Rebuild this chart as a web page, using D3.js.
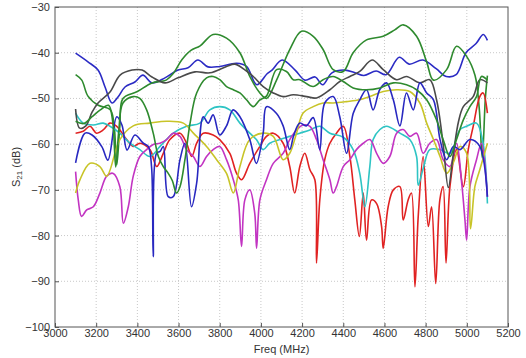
<!DOCTYPE html>
<html>
<head>
<meta charset="utf-8">
<script src="https://cdn.jsdelivr.net/npm/d3@7"></script>
<style>
  body { margin: 0; background: #fff; }
  text { font-family: "Liberation Sans", Arial, sans-serif; fill: #333; }
</style>
</head>
<body>
<svg id="chart" width="526" height="358"></svg>
<script>
// x ticks (MHz) and y ticks (dB)
const xTicks = [3000, 3200, 3400, 3600, 3800, 4000, 4200, 4400, 4600, 4800, 5000, 5200];
const yTicks = [-100, -90, -80, -70, -60, -50, -40, -30];

// traces, [freq MHz, S21 dB]
const blueUpper = [[3100,-40.1],[3160,-42],[3209,-43.8],[3243,-47.5],[3277,-51],[3306,-49.7],[3340,-47.5],[3388,-46.4],[3427,-44.9],[3471,-46.6],[3534,-45.5],[3597,-43.8],[3646,-43.3],[3694,-41.6],[3743,-43.1],[3800,-43],[3882,-42.3],[3930,-43],[3980,-47],[4030,-44.6],[4054,-43.8],[4103,-41.6],[4166,-43.8],[4214,-46],[4263,-45.3],[4300,-47],[4345,-44.4],[4408,-43.8],[4457,-44.4],[4500,-45],[4560,-44],[4608,-44.8],[4672,-41],[4720,-42.5],[4786,-41.6],[4851,-43.5],[4900,-45.2],[4948,-44.8],[4996,-40],[5045,-38],[5080,-36],[5100,-37.3]];

const greenHigh = [[3100,-44.8],[3130,-46],[3160,-49.5],[3210,-51.5],[3267,-52.4],[3285,-55],[3300,-64.5],[3315,-56],[3330,-50],[3400,-48.5],[3471,-46.6],[3540,-46],[3575,-44.5],[3617,-41.5],[3660,-39.5],[3705,-38.5],[3768,-36],[3833,-36.8],[3898,-40],[3946,-45.2],[3995,-48.8],[4027,-50],[4076,-46],[4140,-39.3],[4197,-35.3],[4254,-36.4],[4302,-39.3],[4351,-43.7],[4400,-44.1],[4448,-40],[4513,-37.2],[4594,-36.4],[4650,-35],[4691,-33.9],[4756,-36.4],[4805,-42],[4838,-46],[4902,-43.7],[4950,-38.6],[4999,-40.8],[5040,-45],[5060,-52],[5075,-63],[5090,-50],[5100,-45]];

const greenMid = [[3100,-55],[3140,-55.5],[3180,-54],[3220,-52.5],[3260,-51.5],[3280,-55],[3295,-65],[3310,-57],[3330,-51],[3380,-49.6],[3412,-50],[3445,-52.5],[3477,-57.6],[3502,-62.7],[3526,-64.9],[3550,-66.4],[3570,-68],[3590,-70.7],[3607,-69.3],[3631,-63.4],[3656,-55.4],[3688,-48.8],[3736,-45.5],[3768,-45.2],[3800,-45.9],[3833,-47.4],[3866,-48.1],[3898,-48.8],[3930,-50.3],[3963,-51.8],[3995,-50.3],[4027,-49.5],[4076,-43.7],[4124,-44.1],[4157,-45.9],[4189,-45.9],[4254,-47.4],[4302,-45.9],[4351,-45.2],[4400,-46.3],[4448,-47.7],[4513,-48.1],[4578,-47.7],[4643,-46.6],[4707,-47],[4756,-48.1],[4805,-50.3],[4853,-54.7],[4885,-59],[4918,-62.7],[4950,-59],[4983,-54.7],[5015,-51.8],[5047,-49.6],[5071,-45.2],[5100,-46]];

const black = [[3100,-52.3],[3120,-56.5],[3150,-56],[3180,-53],[3209,-51],[3267,-48.6],[3316,-44.9],[3374,-43.8],[3423,-43.8],[3471,-45.3],[3534,-46.6],[3597,-45.5],[3680,-44.2],[3753,-44.4],[3833,-43],[3874,-42.5],[3930,-44],[3963,-45.2],[4011,-47.4],[4060,-48.8],[4108,-49.6],[4157,-49.2],[4222,-49.6],[4270,-49.9],[4335,-48.1],[4383,-46.3],[4432,-45.2],[4480,-44.1],[4540,-41.6],[4594,-43.7],[4659,-45.9],[4707,-45.2],[4772,-46.6],[4820,-45.9],[4853,-50.3],[4885,-60],[4910,-69.5],[4935,-62],[4960,-55],[4983,-51.8],[5031,-49.6],[5063,-45.9],[5100,-46.6]];

const yellow = [[3100,-70.7],[3121,-67.8],[3170,-64.2],[3218,-64.9],[3251,-67],[3315,-59],[3380,-56],[3461,-55.4],[3542,-55],[3623,-55.4],[3672,-57.6],[3736,-60.5],[3785,-63.4],[3833,-66.4],[3866,-70.7],[3898,-64.9],[3946,-59],[4011,-57.6],[4060,-58.3],[4108,-63.4],[4140,-62],[4173,-57.6],[4205,-53.2],[4254,-51.8],[4302,-51],[4351,-51],[4416,-50.7],[4480,-50.3],[4529,-49.6],[4594,-48.5],[4659,-48.1],[4723,-48.5],[4772,-51],[4805,-55.4],[4838,-59],[4870,-62.7],[4902,-66.4],[4935,-64],[4967,-60.5],[4999,-62],[5018,-78.5],[5039,-69.3],[5063,-65.6],[5100,-59.8]];

const cyan = [[3100,-53.2],[3137,-55.4],[3186,-55.8],[3234,-55.4],[3267,-56.1],[3315,-57.6],[3364,-59.8],[3412,-61.2],[3461,-62.7],[3510,-60.5],[3574,-57.6],[3639,-56.1],[3704,-55.4],[3752,-52.5],[3800,-51.8],[3849,-52.5],[3898,-55.4],[3946,-57.6],[3978,-59],[4011,-61.2],[4043,-59.8],[4092,-59],[4140,-58.3],[4189,-57.6],[4238,-56.9],[4286,-56.1],[4335,-57.6],[4400,-58.5],[4448,-61.2],[4480,-66.4],[4505,-73.7],[4529,-64.9],[4545,-59],[4578,-56.8],[4610,-56.1],[4675,-57.6],[4723,-59],[4756,-62.7],[4764,-69],[4790,-65],[4820,-61.2],[4870,-61.2],[4918,-62],[4967,-56.8],[4999,-56.1],[5047,-55.4],[5079,-59.8],[5100,-73]];

const magenta = [[3100,-66],[3113,-72.2],[3129,-75.8],[3154,-74.4],[3186,-73.7],[3218,-70.7],[3251,-67],[3283,-66.4],[3315,-69.3],[3332,-77.3],[3356,-73.7],[3380,-67],[3412,-62.7],[3445,-61.2],[3477,-60.1],[3510,-59.8],[3542,-59],[3574,-57.6],[3607,-58.3],[3639,-61.2],[3672,-62.7],[3704,-64.9],[3736,-62.7],[3768,-61.2],[3800,-60.5],[3833,-63.4],[3866,-67.8],[3890,-72.2],[3906,-82.4],[3922,-72.2],[3946,-70],[3970,-75.1],[3979,-82.8],[3995,-72.2],[4027,-67.8],[4060,-64.2],[4108,-62],[4140,-59],[4173,-56.9],[4205,-55.8],[4238,-56.1],[4270,-59],[4302,-63.4],[4335,-67.8],[4351,-70.7],[4367,-69.3],[4400,-64.9],[4432,-63.4],[4464,-61.2],[4497,-59.8],[4529,-59],[4562,-62],[4594,-64.2],[4626,-62.7],[4659,-57.6],[4691,-56.8],[4723,-58.3],[4756,-57.6],[4788,-62],[4820,-59.8],[4853,-59],[4885,-63.4],[4918,-64.9],[4950,-59.8],[4975,-68.5],[4991,-76.6],[4999,-81],[5015,-69.3],[5047,-63.4],[5071,-59.8],[5100,-71.5]];

const red = [[3100,-57.6],[3137,-57.2],[3170,-56.1],[3202,-57.6],[3234,-56.9],[3267,-55.4],[3300,-56.1],[3348,-59],[3380,-60.5],[3412,-59.8],[3461,-61.2],[3494,-64.9],[3526,-62],[3558,-59],[3607,-57.6],[3639,-59.8],[3664,-62.7],[3688,-59.8],[3720,-57.6],[3768,-58],[3800,-59],[3849,-62],[3882,-66.4],[3906,-67.8],[3946,-64.2],[3995,-60.5],[4027,-58.3],[4060,-57.6],[4108,-59.8],[4140,-64.9],[4164,-70.7],[4189,-64.9],[4213,-62],[4238,-65.6],[4262,-67.8],[4270,-86],[4286,-72.2],[4310,-63.4],[4335,-59.8],[4367,-57.6],[4400,-56.1],[4432,-62.7],[4456,-72.2],[4478,-80.2],[4497,-70.7],[4513,-81],[4537,-72.2],[4562,-73],[4586,-78],[4594,-82.8],[4618,-73.7],[4643,-70],[4675,-69.3],[4691,-76.6],[4715,-72.2],[4731,-70.7],[4748,-91.2],[4764,-75.8],[4788,-62.7],[4813,-78],[4829,-73.7],[4849,-90.5],[4869,-72.2],[4885,-69.3],[4899,-86],[4918,-69.3],[4950,-61.2],[4983,-69.3],[5007,-61.2],[5031,-56.1],[5063,-49.6],[5079,-48.8],[5100,-53.2]];

const blueLow = [[3100,-64.1],[3146,-57.6],[3180,-58],[3228,-60.6],[3257,-63.5],[3300,-54],[3325,-55.8],[3350,-61.3],[3388,-58],[3429,-59.8],[3453,-60.5],[3469,-65],[3477,-84.6],[3493,-62],[3510,-61.6],[3526,-60.5],[3550,-71.5],[3574,-71.5],[3607,-63.4],[3631,-59.8],[3663,-73.7],[3688,-68.5],[3720,-54],[3744,-55.4],[3768,-53.6],[3800,-58],[3833,-56],[3865,-52.5],[3898,-54],[3946,-59],[3978,-64.2],[4011,-57.6],[4027,-51.8],[4076,-53.3],[4108,-56],[4140,-61.2],[4160,-58],[4189,-55.4],[4220,-56],[4254,-54.2],[4286,-61.2],[4310,-51],[4351,-49.6],[4383,-54],[4416,-62],[4448,-53.3],[4480,-50.3],[4513,-48.1],[4545,-52.5],[4578,-48],[4610,-46.6],[4643,-50.3],[4675,-56],[4707,-48.8],[4740,-52.5],[4772,-46.6],[4805,-48.8],[4838,-50.3],[4870,-59],[4902,-63.4],[4935,-60.5],[4967,-61.2],[5015,-59],[5063,-60.5],[5100,-71.5]];

const series = [
  { data: blueUpper, color: '#2b2bc4' },
  { data: greenHigh, color: '#2e8a2e' },
  { data: red, color: '#e02222' },
  { data: cyan, color: '#2ec4c4' },
  { data: magenta, color: '#c234c2' },
  { data: yellow, color: '#c8c428' },
  { data: black, color: '#4a4a4a' },
  { data: blueLow, color: '#2828c0' },
  { data: greenMid, color: '#2e8a2e' }
];

const margin = { top: 7, right: 18, bottom: 31, left: 55 };
const svg = d3.select('#chart');
const width = 526 - margin.left - margin.right;
const height = 358 - margin.top - margin.bottom;

const x = d3.scaleLinear().domain([3000, 5200]).range([0, width]);
const y = d3.scaleLinear().domain([-100, -30]).range([height, 0]);

const g = svg.append('g')
  .attr('transform', 'translate(' + margin.left + ',' + margin.top + ')');

// grid
g.append('g').selectAll('line')
  .data(xTicks.slice(1, -1))
  .enter().append('line')
  .attr('x1', d => x(d)).attr('x2', d => x(d))
  .attr('y1', 0).attr('y2', height)
  .attr('stroke', '#c8c8c8').attr('stroke-dasharray', '1,2');

g.append('g').selectAll('line')
  .data(yTicks.slice(1, -1))
  .enter().append('line')
  .attr('x1', 0).attr('x2', width)
  .attr('y1', d => y(d)).attr('y2', d => y(d))
  .attr('stroke', '#c8c8c8').attr('stroke-dasharray', '1,2');

// lines
const line = d3.line()
  .curve(d3.curveCatmullRom.alpha(0.5))
  .x(d => x(d[0]))
  .y(d => y(d[1]));

g.append('g').selectAll('path')
  .data(series)
  .enter().append('path')
  .attr('d', d => line(d.data))
  .attr('fill', 'none')
  .attr('stroke', d => d.color)
  .attr('stroke-width', 1.6)
  .attr('stroke-linejoin', 'round');

// axes, MATLAB style ticks inside
const xAxis = d3.axisBottom(x).tickValues(xTicks).tickSize(-4).tickPadding(2).tickFormat(d3.format('d'));
const yAxis = d3.axisLeft(y).tickValues(yTicks).tickSize(-4).tickPadding(5).tickFormat(d3.format('d'));

const gx = g.append('g').attr('transform', 'translate(0,' + height + ')').call(xAxis);
const gy = g.append('g').call(yAxis);
[gx, gy].forEach(a => {
  a.select('.domain').remove();
  a.selectAll('.tick line').attr('stroke', '#555');
  a.selectAll('.tick text').attr('fill', '#333').style('font-size', '11px')
    .style('font-family', '"Liberation Sans", Arial, sans-serif');
});

g.append('rect')
  .attr('width', width).attr('height', height)
  .attr('fill', 'none').attr('stroke', '#555').attr('stroke-width', 1);

// axis labels
svg.append('text')
  .attr('x', margin.left + width / 2)
  .attr('y', 353)
  .attr('text-anchor', 'middle')
  .style('font-size', '11px')
  .text('Freq (MHz)');

const yl = svg.append('text')
  .attr('transform', 'translate(20,' + (margin.top + height / 2) + ') rotate(-90)')
  .attr('text-anchor', 'middle')
  .style('font-size', '11px');
yl.append('tspan').text('S');
yl.append('tspan').attr('baseline-shift', '-30%').style('font-size', '8px').text('21');
yl.append('tspan').text(' (dB)');
</script>
</body>
</html>
